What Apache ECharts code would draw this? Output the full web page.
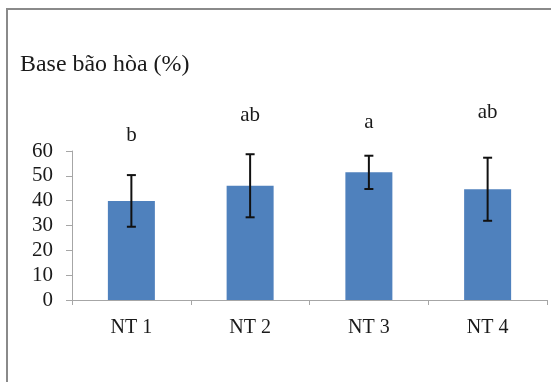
<!DOCTYPE html>
<html>
<head>
<meta charset="utf-8">
<script src="https://cdn.jsdelivr.net/npm/echarts@6/dist/echarts.min.js"></script>
<style>
  html, body { margin: 0; padding: 0; background: #fff; }
  #chart { width: 551px; height: 382px; }
</style>
</head>
<body>
<div id="chart"></div>
<script>
// Base saturation by treatment, with standard deviation and significance letters
const categories = ['NT 1', 'NT 2', 'NT 3', 'NT 4'];
const baseSaturation = [39.9, 46.0, 51.4, 44.6];
const stdDev = [10.4, 12.7, 6.7, 12.7];
const groupLetters = ['b', 'ab', 'a', 'ab'];
const yTicks = { min: 0, max: 60, step: 10 };

const FONT = '"Liberation Serif", "Times New Roman", serif';
// distance (px) from the top of each error bar up to the middle of its letter
const letterLift = [40, 39, 33, 45];

const chart = echarts.init(document.getElementById('chart'), null, { renderer: 'canvas' });

const errorData = categories.map((c, i) => [i, baseSaturation[i] + stdDev[i], baseSaturation[i] - stdDev[i]]);

chart.setOption({
  animation: false,
  backgroundColor: '#ffffff',
  grid: { left: 72, right: 4, top: 151, bottom: 82, containLabel: false },
  graphic: [
    {
      type: 'polyline',
      shape: { points: [[7, 400], [7, 9], [560, 9]] },
      style: { stroke: '#8a8a8a', lineWidth: 2, fill: null },
      silent: true
    },
    {
      type: 'text',
      left: 20,
      top: 53,
      style: { text: 'Base bão hòa (%)', font: '23px ' + FONT, fill: '#1a1a1a' },
      scaleX: 1.04,
      silent: true
    }
  ],
  xAxis: {
    type: 'category',
    data: categories,
    boundaryGap: true,
    axisLine: { show: true, lineStyle: { color: '#a6a6a6', width: 1 } },
    axisTick: { show: true, length: 5, lineStyle: { color: '#a6a6a6' } },
    axisLabel: { color: '#1a1a1a', fontFamily: FONT, fontSize: 20, margin: 18 },
    splitLine: { show: false }
  },
  yAxis: {
    type: 'value',
    min: yTicks.min,
    max: yTicks.max,
    interval: yTicks.step,
    axisLine: { show: true, lineStyle: { color: '#a6a6a6', width: 1 } },
    axisTick: { show: true, inside: false, length: 6, lineStyle: { color: '#a6a6a6' } },
    axisLabel: { color: '#1a1a1a', fontFamily: FONT, fontSize: 21, margin: 19 },
    splitLine: { show: false }
  },
  series: [
    {
      type: 'bar',
      data: baseSaturation,
      barWidth: 47,
      itemStyle: { color: '#4f81bd' },
      z: 2
    },
    {
      type: 'custom',
      data: errorData,
      clip: false,
      z: 5,
      renderItem: function (params, api) {
        const i = api.value(0);
        const top = api.coord([i, api.value(1)]);
        const bot = api.coord([i, api.value(2)]);
        const half = 4.5;
        const lineStyle = { stroke: '#111', lineWidth: 2 };
        return {
          type: 'group',
          children: [
            { type: 'line', shape: { x1: top[0], y1: top[1], x2: bot[0], y2: bot[1] }, style: lineStyle },
            { type: 'line', shape: { x1: top[0] - half, y1: top[1], x2: top[0] + half, y2: top[1] }, style: lineStyle },
            { type: 'line', shape: { x1: bot[0] - half, y1: bot[1], x2: bot[0] + half, y2: bot[1] }, style: lineStyle },
            {
              type: 'text',
              x: top[0],
              y: top[1] - letterLift[params.dataIndex],
              style: {
                text: groupLetters[params.dataIndex],
                font: '21px ' + FONT,
                fill: '#1a1a1a',
                textAlign: 'center',
                textVerticalAlign: 'middle'
              }
            }
          ]
        };
      }
    }
  ]
});
</script>
</body>
</html>
